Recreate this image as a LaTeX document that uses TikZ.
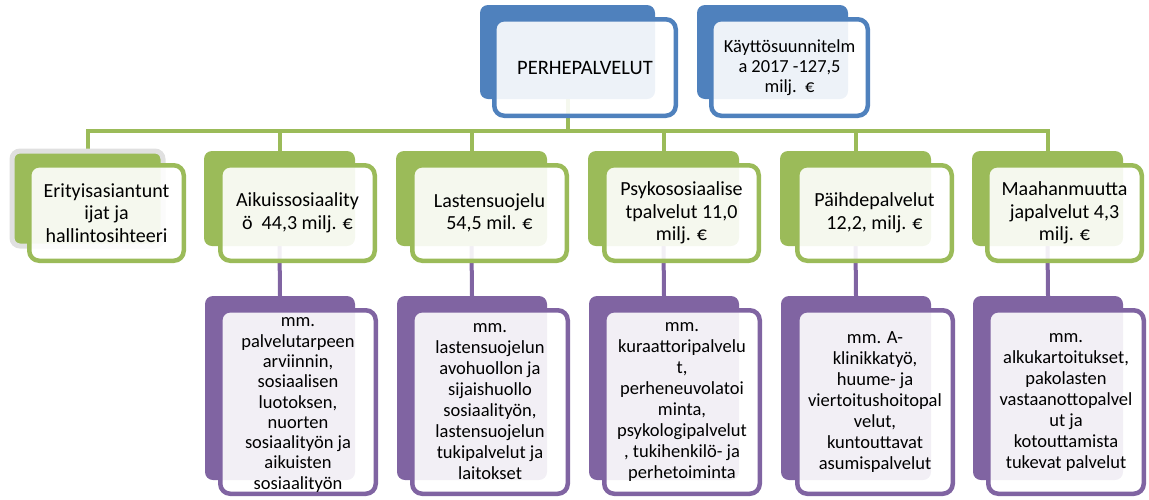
\documentclass[tikz,border=0pt]{standalone}
\usepackage{fontspec}
\setmainfont{Carlito}
\usetikzlibrary{backgrounds}
\definecolor{cgreen}{HTML}{9BBB59}
\definecolor{cblue}{HTML}{4F81BD}
\definecolor{cpurple}{HTML}{8064A2}
\tikzset{
  base/.style={anchor=north west, inner sep=0pt, outer sep=0pt},
  backbox/.style={base, rounded corners=8pt, minimum width=151pt, minimum height=95pt},
  frontbox/.style={base, rounded corners=10pt, line width=4.5pt, fill=white, fill opacity=0.9, text opacity=1, align=center, text=black},
  gback/.style={backbox, fill=cgreen},
  gfront/.style={frontbox, draw=cgreen, minimum width=154.5pt, minimum height=95.5pt, font=\fontsize{20}{22.5}\selectfont},
  pback/.style={backbox, fill=cpurple, minimum width=150pt, minimum height=184pt},
  pfront/.style={frontbox, draw=cpurple, minimum width=155.5pt, minimum height=183.5pt, font=\fontsize{18.5}{21}\selectfont},
  ptext/.style={inner sep=0pt, align=center, text=black, font=\fontsize{18.5}{20.3}\selectfont},
  bback/.style={backbox, fill=cblue, minimum height=94pt},
  bfront/.style={frontbox, draw=cblue, minimum height=96.5pt},
  gline/.style={draw=cgreen, line width=4pt},
  pline/.style={draw=cpurple, line width=4pt},
}
\begin{document}
\begin{tikzpicture}[x=1pt,y=-1pt]
\useasboundingbox (0,0) rectangle (1149,499);
% top boxes
\node[bback, minimum width=175pt] (pb) at (480,5) {};
\node[bfront, minimum width=181.5pt, font=\fontsize{20.5}{24}\selectfont] (pf) at (494.25,19.25) {PERHEPALVELUT};
\node[bback] (kb) at (697,5) {};
\node[bfront, minimum width=156.5pt, font=\fontsize{18.4}{20}\selectfont] (kf) at (711.25,19.25) {Käyttösuunnitelm\\a 2017 -127,5\\milj.\ \ €};
% green row
\node[gback, draw=black!12, line width=5pt] (g1b) at (12,151) {};
\node[gback] (g2b) at (204,151) {};
\node[gback] (g3b) at (396,151) {};
\node[gback] (g4b) at (588,151) {};
\node[gback] (g5b) at (780,151) {};
\node[gback] (g6b) at (972,151) {};
\node[gfront] (g1f) at (29.25,165.25) {Erityisasiantunt\\ijat ja\\hallintosihteeri};
\node[gfront] (g2f) at (220.25,165.25) {Aikuissosiaality\\ö\ \ 44,3 milj. €};
\node[gfront] (g3f) at (412.25,165.25) {Lastensuojelu\\54,5 mil. €};
\node[gfront] (g4f) at (604.25,165.25) {Psykososiaalise\\tpalvelut 11,0\\milj. €};
\node[gfront] (g5f) at (797.25,165.25) {Päihdepalvelut\\12,2, milj. €};
\node[gfront] (g6f) at (987.25,165.25) {Maahanmuutta\\japalvelut 4,3\\milj. €};
% purple row
\node[pback] (p2b) at (205,296) {};
\node[pback] (p3b) at (397,296) {};
\node[pback] (p4b) at (589,296) {};
\node[pback] (p5b) at (781,296) {};
\node[pback] (p6b) at (973,296) {};
\node[pfront] (p2f) at (220.25,310.25) {};
\node[ptext] (p2t) at ([yshift=-3pt]p2f.center) {mm.\\palvelutarpeen\\arviinnin,\\sosiaalisen\\luotoksen,\\nuorten\\sosiaalityön ja\\aikuisten\\sosiaalityön};
\node[pfront] (p3f) at (412.25,310.25) {mm.\\lastensuojelun\\avohuollon ja\\sijaishuollo\\sosiaalityön,\\lastensuojelun\\tukipalvelut ja\\laitokset};
\node[pfront] (p4f) at (604.25,310.25) {mm.\\kuraattoripalvelu\\t,\\perheneuvolatoi\\minta,\\psykologipalvelut\\, tukihenkilö- ja\\perhetoiminta};
\node[pfront] (p5f) at (797.25,310.25) {mm. A-\\klinikkatyö,\\huume- ja\\viertoitushoitopal\\velut,\\kuntouttavat\\asumispalvelut};
\node[pfront] (p6f) at (988.25,310.25) {mm.\\alkukartoitukset,\\pakolasten\\vastaanottopalvel\\ut ja\\kotouttamista\\tukevat palvelut};
\coordinate (hl) at (0,131);
\begin{scope}[on background layer]
\draw[gline] (pb.south) -- (pb.south |- hl);
\draw[gline, line cap=rect] (g1b.north |- hl) -- (g6b.north |- hl);
\foreach \i in {1,...,6}{\draw[gline] (g\i b.north |- hl) -- (g\i b.north);}
\foreach \i in {2,...,6}{\draw[pline] (g\i b.south) -- (p\i b.north);}
\end{scope}
\end{tikzpicture}
\end{document}
